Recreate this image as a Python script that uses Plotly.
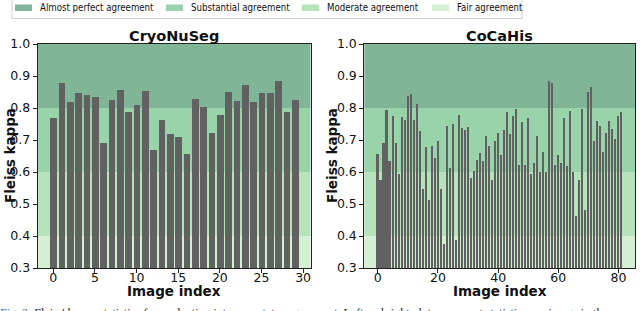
import plotly.graph_objects as go

# ---------------- data ----------------
cryo_index = list(range(30))
cryo_kappa = [0.769, 0.877, 0.820, 0.846, 0.840, 0.834, 0.690, 0.825, 0.856, 0.789,
              0.808, 0.852, 0.670, 0.761, 0.718, 0.709, 0.656, 0.829, 0.802, 0.721,
              0.777, 0.850, 0.822, 0.871, 0.820, 0.847, 0.846, 0.883, 0.789, 0.825]

coca_index = list(range(82))
coca_kappa = [0.656, 0.574, 0.690, 0.795, 0.635, 0.776, 0.690, 0.595, 0.773, 0.764,
              0.839, 0.843, 0.764, 0.814, 0.728, 0.547, 0.678, 0.514, 0.682, 0.645,
              0.698, 0.547, 0.376, 0.744, 0.614, 0.751, 0.388, 0.779, 0.736, 0.730,
              0.741, 0.581, 0.603, 0.638, 0.658, 0.635, 0.714, 0.681, 0.574, 0.696,
              0.721, 0.654, 0.732, 0.789, 0.720, 0.776, 0.797, 0.622, 0.757, 0.622,
              0.768, 0.595, 0.629, 0.713, 0.599, 0.664, 0.601, 0.883, 0.879, 0.622,
              0.654, 0.627, 0.770, 0.618, 0.791, 0.601, 0.461, 0.576, 0.797, 0.480,
              0.850, 0.866, 0.698, 0.759, 0.744, 0.662, 0.721, 0.760, 0.734, 0.703,
              0.774, 0.786]

band_names = ["Almost perfect agreement", "Substantial agreement",
              "Moderate agreement", "Fair agreement"]
band_low = [0.8, 0.6, 0.4, 0.2]
band_high = [1.0, 0.8, 0.6, 0.4]
band_colors = ["#80b597", "#98d3aa", "#b6e2bc", "#d4efd1"]

titles = ["CryoNuSeg", "CoCaHis"]
x_title = "Image index"
y_title = "Fleiss kappa"
x_ticks = [[0, 5, 10, 15, 20, 25, 30], [0, 20, 40, 60, 80]]
y_ticks = [0.3, 0.4, 0.5, 0.6, 0.7, 0.8, 0.9, 1.0]

# ---------------- figure ----------------
W, H = 640, 311
FONT = "DejaVu Sans"
LEG_FONT = "DejaVu Sans Condensed, DejaVu Sans"
BAR = "#616161"

fig = go.Figure()

fig.add_trace(go.Bar(x=cryo_index, y=cryo_kappa, width=0.8, marker_color=BAR,
                     marker_line_width=0, xaxis="x", yaxis="y", showlegend=False))
fig.add_trace(go.Bar(x=coca_index, y=coca_kappa, width=0.7, marker_color=BAR,
                     marker_line_width=0, xaxis="x2", yaxis="y2", showlegend=False))

def px_x(p):
    return p / W

def px_y(p):
    return (H - p) / H

dom1 = [px_x(37.6), px_x(310.5)]
dom2 = [px_x(364.3), px_x(635.0)]
ydom = [px_y(268), px_y(44)]

def xr(n):
    span = n - 1 + 0.8
    return [-0.4 - 0.05 * span, n - 1 + 0.4 + 0.05 * span]

axis_common = dict(showline=True, mirror=True, linecolor="#222", linewidth=1,
                   ticks="outside", ticklen=4, tickcolor="#222", showgrid=False,
                   zeroline=False, automargin=False,
                   tickfont=dict(family=FONT, size=12.5, color="#111"))

fig.update_layout(
    template="none",
    width=W, height=H, margin=dict(l=0, r=0, t=0, b=0, pad=0),
    paper_bgcolor="white", plot_bgcolor="white", bargap=0,
    font=dict(family=FONT, color="#111"),
    xaxis=dict(domain=dom1, range=xr(len(cryo_index)), tickvals=x_ticks[0], anchor="y",
               ticklabelstandoff=-6, **axis_common),
    yaxis=dict(domain=ydom, range=[0.3, 1.0], tickvals=y_ticks, ticktext=[f"{v:.1f}" for v in y_ticks],
               anchor="x", **axis_common),
    xaxis2=dict(domain=dom2, range=xr(len(coca_index)), tickvals=x_ticks[1], anchor="y2",
                ticklabelstandoff=-6, **axis_common),
    yaxis2=dict(domain=ydom, range=[0.3, 1.0], tickvals=y_ticks, ticktext=[f"{v:.1f}" for v in y_ticks],
                anchor="x2", **axis_common),
)

# agreement bands
for xa, ya in [("x", "y"), ("x2", "y2")]:
    for lo, hi, c in zip(band_low, band_high, band_colors):
        fig.add_shape(type="rect", xref=f"{xa} domain", yref=ya, x0=0, x1=1,
                      y0=max(lo, 0.3), y1=hi, fillcolor=c, line_width=0, layer="below")

# subplot titles and axis titles
for dom, t, ytx in zip([dom1, dom2], titles, [10, 332]):
    mid = (dom[0] + dom[1]) / 2
    fig.add_annotation(text=f"<b>{t}</b>", xref="paper", yref="paper",
                       x=mid, y=px_y(36), xanchor="center", yanchor="middle",
                       showarrow=False, font=dict(family=FONT, size=14.5, color="#111"))
    fig.add_annotation(text=f"<b>{x_title}</b>", xref="paper", yref="paper",
                       x=mid, y=px_y(290.5), xanchor="center", yanchor="middle",
                       showarrow=False, font=dict(family=FONT, size=13.5, color="#111"))
    fig.add_annotation(text=f"<b>{y_title}</b>", xref="paper", yref="paper",
                       x=px_x(ytx), y=px_y(156), xanchor="center", yanchor="middle",
                       textangle=-90, showarrow=False,
                       font=dict(family=FONT, size=13.5, color="#111"))

# legend (manual, across top)
fig.add_shape(type="rect", xref="paper", yref="paper", x0=px_x(12), x1=px_x(522),
              y0=px_y(18.5), y1=px_y(-4), line=dict(color="#d0d0d0", width=1),
              fillcolor="white", layer="above")
patch_x = [15, 166, 302, 432]
for name, c, px0 in zip(band_names, band_colors, patch_x):
    fig.add_shape(type="rect", xref="paper", yref="paper", x0=px_x(px0), x1=px_x(px0 + 17),
                  y0=px_y(11), y1=px_y(4.5), fillcolor=c, line_width=0, layer="above")
    fig.add_annotation(text=name, xref="paper", yref="paper", x=px_x(px0 + 23), y=px_y(8),
                       xanchor="left", yanchor="middle", showarrow=False,
                       font=dict(family=LEG_FONT, size=9.6, color="#111"))

# caption (partly cut off by the image bottom, as in the source)
fig.add_annotation(
    text="<span style='color:#3b6fb0'>Fig. 2:</span> Fleiss' kappa statistics for evaluating inter-annotator agreement. Left and right plots represent statistics per image in the",
    xref="paper", yref="paper", x=px_x(-2), y=px_y(304), xanchor="left", yanchor="top",
    showarrow=False, font=dict(family="Liberation Serif", size=12, color="#222"))

fig.write_html("out.html", config={"displayModeBar": False},
               post_script="document.body.style.margin='0';document.body.style.overflow='hidden';")
